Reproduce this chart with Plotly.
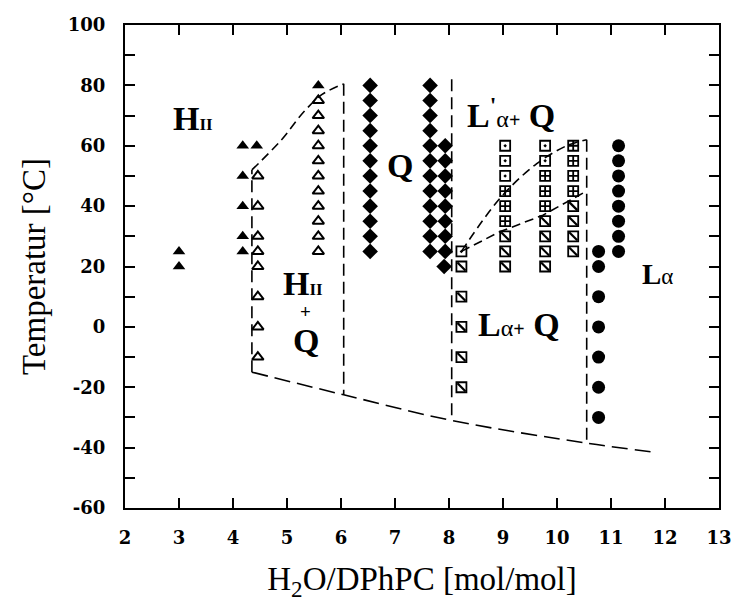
import plotly.graph_objects as go

# ---------------- data ----------------
x_range = [2, 13]
y_range = [-60, 100]
x_ticks = [2, 3, 4, 5, 6, 7, 8, 9, 10, 11, 12, 13]
x_ticktext = ["2", "3", "4", "5", "6", "7", "8", "9", "10", "11", "12", "13"]
y_ticks = [-60, -40, -20, 0, 20, 40, 60, 80, 100]
y_ticktext = ["-60", "-40", "-20", "0", "20", "40", "60", "80", "100"]
y_minor_ticks = [-50, -30, -10, 10, 30, 50, 70, 90]

# H_II (filled triangles)
hii_x = [3.0, 3.0, 4.18, 4.18, 4.18, 4.18, 4.18, 4.44, 5.58]
hii_y = [20, 25, 25, 30, 40, 50, 60, 60, 80]

# H_II + Q (open triangles)
hiiq_x = [4.46, 4.46, 4.46, 4.46, 4.46, 4.46, 4.46, 4.46,
          5.58, 5.58, 5.58, 5.58, 5.58, 5.58, 5.58, 5.58, 5.58, 5.58, 5.58]
hiiq_y = [50, 40, 30, 25, 20, 10, 0, -10,
          75, 70, 65, 60, 55, 50, 45, 40, 35, 30, 25]

# Q (filled diamonds)
q_x = [6.54, 6.54, 6.54, 6.54, 6.54, 6.54, 6.54, 6.54, 6.54, 6.54, 6.54, 6.54,
       7.65, 7.65, 7.65, 7.65, 7.65, 7.65, 7.65, 7.65, 7.65, 7.65, 7.65, 7.65,
       7.93, 7.93, 7.93, 7.93, 7.93, 7.93, 7.93, 7.93, 7.91]
q_y = [80, 75, 70, 65, 60, 55, 50, 45, 40, 35, 30, 25,
       80, 75, 70, 65, 60, 55, 50, 45, 40, 35, 30, 25,
       60, 55, 50, 45, 40, 35, 30, 25, 20]

# L'alpha (squares with dot)
ladot_x = [8.23, 9.04, 9.04, 9.04, 9.78, 9.78]
ladot_y = [25, 60, 55, 50, 60, 55]

# L'alpha + Q (squares with cross)
lacross_x = [9.04, 9.04, 9.04, 9.78, 9.78, 9.78, 10.3, 10.3, 10.3, 10.3]
lacross_y = [45, 40, 35, 50, 45, 40, 60, 55, 50, 45]

# L_alpha + Q (squares with slash)
laslash_x = [8.23, 8.23, 8.23, 8.23, 8.23, 9.04, 9.04, 9.04,
             9.78, 9.78, 9.78, 9.78, 10.3, 10.3, 10.3, 10.3]
laslash_y = [20, 10, 0, -10, -20, 30, 25, 20,
             35, 30, 25, 20, 40, 35, 30, 25]

# L_alpha (filled circles)
la_x = [10.77, 10.77, 10.77, 10.77, 10.77, 10.77, 10.77,
        11.14, 11.14, 11.14, 11.14, 11.14, 11.14, 11.14, 11.14]
la_y = [25, 20, 10, 0, -10, -20, -30,
        60, 55, 50, 45, 40, 35, 30, 25]

# phase boundaries (dashed)
b_v43_x = [4.35, 4.35]
b_v43_y = [-15, 52]
b_hii_x = [4.35, 4.9, 5.3, 5.65, 6.05]
b_hii_y = [52, 62, 71, 77, 80.5]
b_v6_x = [6.05, 6.05]
b_v6_y = [80.5, -22.5]
b_v8_x = [8.05, 8.05]
b_v8_y = [82, -31]
b_v105_x = [10.55, 10.55]
b_v105_y = [62, -38.5]
b_bottom_x = [4.35, 6.05, 8.05, 10.55, 11.8]
b_bottom_y = [-15, -22.5, -31, -38.5, -41.5]
b_upper_x = [8.23, 8.94, 9.62, 10.18, 10.55]
b_upper_y = [25, 42.5, 54, 60, 62]
b_lower_x = [8.23, 8.94, 9.74, 10.5]
b_lower_y = [25, 31.5, 37, 44.5]

serif = "Liberation Serif"
fig = go.Figure()

dash_lines = [
    (b_v43_x, b_v43_y, "linear", "12px,6px"),
    (b_hii_x, b_hii_y, "spline", "9px,5px"),
    (b_v6_x, b_v6_y, "linear", "12px,6px"),
    (b_v8_x, b_v8_y, "linear", "12px,6px"),
    (b_v105_x, b_v105_y, "linear", "12px,6px"),
    (b_bottom_x, b_bottom_y, "spline", "16px,7px"),
    (b_upper_x, b_upper_y, "spline", "9px,5px"),
    (b_lower_x, b_lower_y, "linear", "9px,5px"),
]
for bx, by, shp, dsh in dash_lines:
    fig.add_trace(go.Scatter(x=bx, y=by, mode="lines",
                             line=dict(color="black", width=1.6, dash=dsh, shape=shp),
                             hoverinfo="skip", showlegend=False))

def pts(x, y, symbol, size, lw=1.5):
    fig.add_trace(go.Scatter(x=x, y=y, mode="markers", showlegend=False,
                             marker=dict(symbol=symbol, size=size, color="black",
                                         line=dict(color="black", width=lw))))

pts(hii_x, hii_y, "triangle-up", 11, 0)
pts(hiiq_x, hiiq_y, "triangle-up-open", 10, 2)
pts(q_x, q_y, "diamond", 12, 0)
pts(la_x, la_y, "circle", 13, 0)
pts(ladot_x, ladot_y, "square-open-dot", 10, 1.8)
pts(lacross_x, lacross_y, "square-cross-open", 10, 1.8)
pts(laslash_x, laslash_y, "square-open", 10, 1.8)
pts(laslash_x, laslash_y, "line-nw", 8, 2.2)

ann = []
def lab(x, y, text, size, bold=True):
    ann.append(dict(x=x, y=y, xref="x", yref="y", text=text, showarrow=False,
                    font=dict(family=serif, size=size, color="black",
                              weight="bold" if bold else "normal")))

lab(3.25, 69.0, "H<span style='font-size:17px'>II</span>", 34)
lab(5.30, 14.5, "H<span style='font-size:17px'>II</span>", 34)
lab(5.35, 5.0, "+", 19)
lab(5.35, -4.5, "Q", 34)
lab(7.09, 53.5, "Q", 34)
lab(9.15, 71.0, "L<sup>'</sup><span style='font-weight:normal;font-size:24px'>α</span>"
                "<span style='font-size:20px'>+</span> Q", 34)
lab(9.30, 0.7, "L<span style='font-weight:normal;font-size:24px'>α</span>"
               "<span style='font-size:20px'>+</span> Q", 34)
lab(11.87, 17.5, "L<span style='font-weight:normal;font-size:23px'>α</span>", 29)

tickfont = dict(family="DejaVu Serif", size=18, color="black", weight="bold")
fig.update_layout(
    width=734, height=603,
    margin=dict(l=125, r=15, t=25, b=95),
    paper_bgcolor="white", plot_bgcolor="white",
    annotations=ann,
    xaxis=dict(range=x_range, tickvals=x_ticks, ticktext=x_ticktext,
               ticks="inside", ticklen=10,
               tickwidth=2, tickcolor="black", showline=True, linewidth=2,
               linecolor="black", mirror="ticks", showgrid=False, zeroline=False,
               tickfont=tickfont, ticklabelstandoff=12,
               title=dict(text="H<sub>2</sub>O/DPhPC [mol/mol]",
                          font=dict(family=serif, size=33, color="#000000"),
                          standoff=20)),
    yaxis=dict(range=y_range, tickvals=y_ticks, ticktext=y_ticktext,
               ticks="inside", ticklen=10,
               tickwidth=2, tickcolor="black", showline=True, linewidth=2,
               linecolor="black", mirror="ticks", showgrid=False, zeroline=False,
               tickfont=tickfont, ticklabelstandoff=14,
               minor=dict(tickvals=y_minor_ticks, ticks="inside", ticklen=10,
                          tickwidth=2, tickcolor="black"),
               title=dict(text="Temperatur [°C]",
                          font=dict(family=serif, size=33, color="#000000"),
                          standoff=12)),
)
fig.update_xaxes(automargin=False)
fig.update_yaxes(automargin=False)

fig.write_html("out.html")
